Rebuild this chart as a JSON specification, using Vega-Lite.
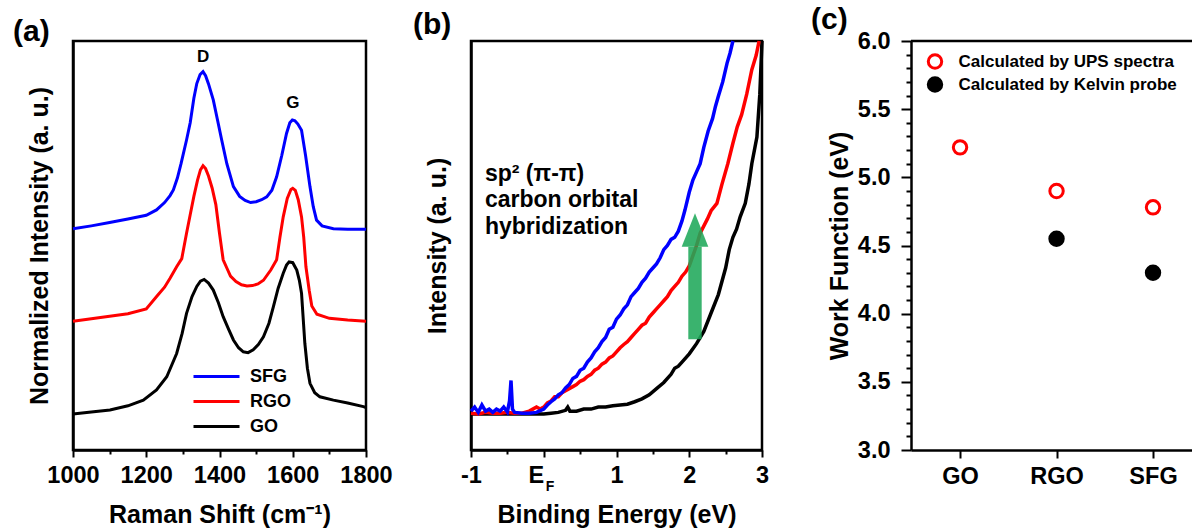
{
  "$schema": "https://vega.github.io/schema/vega-lite/v6.json",
  "background": "white",
  "padding": {"left": 11, "top": 5, "right": 0, "bottom": 0},
  "autosize": {"type": "pad"},
  "config": {
    "font": "Liberation Sans",
    "view": {"stroke": "black", "strokeWidth": 2.5},
    "axis": {"grid": false, "labelFontSize": 23.5, "labelFontWeight": "bold", "labelColor": "black", "titleFontSize": 25, "titleFontWeight": "bold", "titleColor": "black", "tickColor": "black", "tickWidth": 2, "domainColor": "black", "domainWidth": 2.5, "minExtent": 0},
    "title": {"fontSize": 30, "fontWeight": "bold", "color": "black", "anchor": "start", "frame": "group", "baseline": "alphabetic", "offset": 0, "dy": 10}
  },
  "datasets": {
    "raman": [
      {"sample":"GO","shift":1000,"intensity":0.088},{"sample":"GO","shift":1050,"intensity":0.093},{"sample":"GO","shift":1101,"intensity":0.098},{"sample":"GO","shift":1150,"intensity":0.108},{"sample":"GO","shift":1192,"intensity":0.122},{"sample":"GO","shift":1228,"intensity":0.147},{"sample":"GO","shift":1256,"intensity":0.179},{"sample":"GO","shift":1283,"intensity":0.236},{"sample":"GO","shift":1298,"intensity":0.285},{"sample":"GO","shift":1310,"intensity":0.334},{"sample":"GO","shift":1325,"intensity":0.375},{"sample":"GO","shift":1338,"intensity":0.4},{"sample":"GO","shift":1348,"intensity":0.413},{"sample":"GO","shift":1358,"intensity":0.417},{"sample":"GO","shift":1370,"intensity":0.408},{"sample":"GO","shift":1383,"intensity":0.391},{"sample":"GO","shift":1397,"intensity":0.36},{"sample":"GO","shift":1410,"intensity":0.326},{"sample":"GO","shift":1425,"intensity":0.295},{"sample":"GO","shift":1438,"intensity":0.269},{"sample":"GO","shift":1452,"intensity":0.25},{"sample":"GO","shift":1465,"intensity":0.24},{"sample":"GO","shift":1478,"intensity":0.238},{"sample":"GO","shift":1492,"intensity":0.245},{"sample":"GO","shift":1506,"intensity":0.258},{"sample":"GO","shift":1520,"intensity":0.277},{"sample":"GO","shift":1535,"intensity":0.31},{"sample":"GO","shift":1547,"intensity":0.35},{"sample":"GO","shift":1560,"intensity":0.395},{"sample":"GO","shift":1574,"intensity":0.432},{"sample":"GO","shift":1583,"intensity":0.452},{"sample":"GO","shift":1590,"intensity":0.46},{"sample":"GO","shift":1600,"intensity":0.458},{"sample":"GO","shift":1611,"intensity":0.44},{"sample":"GO","shift":1618,"intensity":0.415},{"sample":"GO","shift":1624,"intensity":0.383},{"sample":"GO","shift":1633,"intensity":0.261},{"sample":"GO","shift":1640,"intensity":0.2},{"sample":"GO","shift":1647,"intensity":0.163},{"sample":"GO","shift":1660,"intensity":0.14},{"sample":"GO","shift":1674,"intensity":0.13},{"sample":"GO","shift":1711,"intensity":0.122},{"sample":"GO","shift":1750,"intensity":0.115},{"sample":"GO","shift":1793,"intensity":0.106},{"sample":"GO","shift":1800,"intensity":0.104},
      {"sample":"RGO","shift":1000,"intensity":0.315},{"sample":"RGO","shift":1050,"intensity":0.321},{"sample":"RGO","shift":1100,"intensity":0.327},{"sample":"RGO","shift":1150,"intensity":0.333},{"sample":"RGO","shift":1200,"intensity":0.345},{"sample":"RGO","shift":1230,"intensity":0.377},{"sample":"RGO","shift":1250,"intensity":0.398},{"sample":"RGO","shift":1265,"intensity":0.42},{"sample":"RGO","shift":1283,"intensity":0.448},{"sample":"RGO","shift":1297,"intensity":0.468},{"sample":"RGO","shift":1310,"intensity":0.53},{"sample":"RGO","shift":1320,"intensity":0.575},{"sample":"RGO","shift":1330,"intensity":0.62},{"sample":"RGO","shift":1340,"intensity":0.66},{"sample":"RGO","shift":1348,"intensity":0.685},{"sample":"RGO","shift":1355,"intensity":0.695},{"sample":"RGO","shift":1362,"intensity":0.688},{"sample":"RGO","shift":1370,"intensity":0.67},{"sample":"RGO","shift":1380,"intensity":0.64},{"sample":"RGO","shift":1390,"intensity":0.6},{"sample":"RGO","shift":1400,"intensity":0.53},{"sample":"RGO","shift":1410,"intensity":0.465},{"sample":"RGO","shift":1420,"intensity":0.445},{"sample":"RGO","shift":1430,"intensity":0.425},{"sample":"RGO","shift":1445,"intensity":0.412},{"sample":"RGO","shift":1460,"intensity":0.404},{"sample":"RGO","shift":1475,"intensity":0.401},{"sample":"RGO","shift":1490,"intensity":0.402},{"sample":"RGO","shift":1505,"intensity":0.406},{"sample":"RGO","shift":1520,"intensity":0.415},{"sample":"RGO","shift":1540,"intensity":0.44},{"sample":"RGO","shift":1556,"intensity":0.465},{"sample":"RGO","shift":1565,"intensity":0.52},{"sample":"RGO","shift":1574,"intensity":0.57},{"sample":"RGO","shift":1585,"intensity":0.615},{"sample":"RGO","shift":1595,"intensity":0.637},{"sample":"RGO","shift":1600,"intensity":0.64},{"sample":"RGO","shift":1607,"intensity":0.635},{"sample":"RGO","shift":1615,"intensity":0.612},{"sample":"RGO","shift":1624,"intensity":0.57},{"sample":"RGO","shift":1630,"intensity":0.52},{"sample":"RGO","shift":1636,"intensity":0.448},{"sample":"RGO","shift":1645,"intensity":0.39},{"sample":"RGO","shift":1652,"intensity":0.352},{"sample":"RGO","shift":1666,"intensity":0.332},{"sample":"RGO","shift":1700,"intensity":0.322},{"sample":"RGO","shift":1750,"intensity":0.318},{"sample":"RGO","shift":1800,"intensity":0.315},
      {"sample":"SFG","shift":1000,"intensity":0.541},{"sample":"SFG","shift":1050,"intensity":0.548},{"sample":"SFG","shift":1100,"intensity":0.556},{"sample":"SFG","shift":1150,"intensity":0.565},{"sample":"SFG","shift":1200,"intensity":0.574},{"sample":"SFG","shift":1228,"intensity":0.587},{"sample":"SFG","shift":1250,"intensity":0.605},{"sample":"SFG","shift":1265,"intensity":0.622},{"sample":"SFG","shift":1274,"intensity":0.636},{"sample":"SFG","shift":1285,"intensity":0.665},{"sample":"SFG","shift":1295,"intensity":0.7},{"sample":"SFG","shift":1310,"intensity":0.758},{"sample":"SFG","shift":1320,"intensity":0.8},{"sample":"SFG","shift":1330,"intensity":0.86},{"sample":"SFG","shift":1338,"intensity":0.896},{"sample":"SFG","shift":1347,"intensity":0.918},{"sample":"SFG","shift":1355,"intensity":0.925},{"sample":"SFG","shift":1362,"intensity":0.915},{"sample":"SFG","shift":1370,"intensity":0.895},{"sample":"SFG","shift":1383,"intensity":0.856},{"sample":"SFG","shift":1395,"intensity":0.805},{"sample":"SFG","shift":1406,"intensity":0.758},{"sample":"SFG","shift":1420,"intensity":0.7},{"sample":"SFG","shift":1438,"intensity":0.644},{"sample":"SFG","shift":1455,"intensity":0.62},{"sample":"SFG","shift":1470,"intensity":0.61},{"sample":"SFG","shift":1485,"intensity":0.605},{"sample":"SFG","shift":1500,"intensity":0.607},{"sample":"SFG","shift":1515,"intensity":0.612},{"sample":"SFG","shift":1529,"intensity":0.619},{"sample":"SFG","shift":1543,"intensity":0.635},{"sample":"SFG","shift":1556,"intensity":0.668},{"sample":"SFG","shift":1570,"intensity":0.72},{"sample":"SFG","shift":1583,"intensity":0.774},{"sample":"SFG","shift":1592,"intensity":0.8},{"sample":"SFG","shift":1599,"intensity":0.807},{"sample":"SFG","shift":1606,"intensity":0.805},{"sample":"SFG","shift":1614,"intensity":0.797},{"sample":"SFG","shift":1624,"intensity":0.782},{"sample":"SFG","shift":1635,"intensity":0.72},{"sample":"SFG","shift":1647,"intensity":0.644},{"sample":"SFG","shift":1656,"intensity":0.595},{"sample":"SFG","shift":1665,"intensity":0.562},{"sample":"SFG","shift":1680,"intensity":0.548},{"sample":"SFG","shift":1711,"intensity":0.541},{"sample":"SFG","shift":1750,"intensity":0.54},{"sample":"SFG","shift":1800,"intensity":0.54}
    ],
    "ups": [
      {"sample":"GO","energy":-1.0,"intensity":0.088},{"sample":"GO","energy":-0.5,"intensity":0.088},{"sample":"GO","energy":0.0,"intensity":0.088},{"sample":"GO","energy":0.1,"intensity":0.09},{"sample":"GO","energy":0.2,"intensity":0.092},{"sample":"GO","energy":0.3,"intensity":0.097},{"sample":"GO","energy":0.33,"intensity":0.105},{"sample":"GO","energy":0.36,"intensity":0.095},{"sample":"GO","energy":0.45,"intensity":0.095},{"sample":"GO","energy":0.55,"intensity":0.1},{"sample":"GO","energy":0.65,"intensity":0.1},{"sample":"GO","energy":0.75,"intensity":0.105},{"sample":"GO","energy":0.85,"intensity":0.105},{"sample":"GO","energy":0.95,"intensity":0.108},{"sample":"GO","energy":1.05,"intensity":0.11},{"sample":"GO","energy":1.15,"intensity":0.112},{"sample":"GO","energy":1.25,"intensity":0.118},{"sample":"GO","energy":1.35,"intensity":0.125},{"sample":"GO","energy":1.45,"intensity":0.135},{"sample":"GO","energy":1.55,"intensity":0.15},{"sample":"GO","energy":1.65,"intensity":0.165},{"sample":"GO","energy":1.75,"intensity":0.185},{"sample":"GO","energy":1.8,"intensity":0.2},{"sample":"GO","energy":1.85,"intensity":0.205},{"sample":"GO","energy":1.9,"intensity":0.215},{"sample":"GO","energy":2.0,"intensity":0.235},{"sample":"GO","energy":2.1,"intensity":0.26},{"sample":"GO","energy":2.2,"intensity":0.29},{"sample":"GO","energy":2.3,"intensity":0.335},{"sample":"GO","energy":2.4,"intensity":0.38},{"sample":"GO","energy":2.5,"intensity":0.445},{"sample":"GO","energy":2.55,"intensity":0.49},{"sample":"GO","energy":2.6,"intensity":0.52},{"sample":"GO","energy":2.65,"intensity":0.54},{"sample":"GO","energy":2.7,"intensity":0.57},{"sample":"GO","energy":2.77,"intensity":0.603},{"sample":"GO","energy":2.82,"intensity":0.65},{"sample":"GO","energy":2.86,"intensity":0.7},{"sample":"GO","energy":2.93,"intensity":0.765},{"sample":"GO","energy":2.97,"intensity":0.87},{"sample":"GO","energy":3.0,"intensity":1.0},
      {"sample":"RGO","energy":-1.0,"intensity":0.09},{"sample":"RGO","energy":-0.9,"intensity":0.088},{"sample":"RGO","energy":-0.8,"intensity":0.092},{"sample":"RGO","energy":-0.7,"intensity":0.09},{"sample":"RGO","energy":-0.6,"intensity":0.09},{"sample":"RGO","energy":-0.5,"intensity":0.092},{"sample":"RGO","energy":-0.4,"intensity":0.09},{"sample":"RGO","energy":-0.3,"intensity":0.09},{"sample":"RGO","energy":-0.2,"intensity":0.095},{"sample":"RGO","energy":-0.15,"intensity":0.1},{"sample":"RGO","energy":-0.1,"intensity":0.105},{"sample":"RGO","energy":-0.05,"intensity":0.1},{"sample":"RGO","energy":0.0,"intensity":0.105},{"sample":"RGO","energy":0.05,"intensity":0.115},{"sample":"RGO","energy":0.1,"intensity":0.12},{"sample":"RGO","energy":0.15,"intensity":0.13},{"sample":"RGO","energy":0.2,"intensity":0.13},{"sample":"RGO","energy":0.25,"intensity":0.14},{"sample":"RGO","energy":0.3,"intensity":0.145},{"sample":"RGO","energy":0.35,"intensity":0.15},{"sample":"RGO","energy":0.4,"intensity":0.155},{"sample":"RGO","energy":0.45,"intensity":0.16},{"sample":"RGO","energy":0.5,"intensity":0.168},{"sample":"RGO","energy":0.55,"intensity":0.172},{"sample":"RGO","energy":0.6,"intensity":0.18},{"sample":"RGO","energy":0.65,"intensity":0.185},{"sample":"RGO","energy":0.7,"intensity":0.195},{"sample":"RGO","energy":0.75,"intensity":0.2},{"sample":"RGO","energy":0.8,"intensity":0.21},{"sample":"RGO","energy":0.85,"intensity":0.215},{"sample":"RGO","energy":0.9,"intensity":0.225},{"sample":"RGO","energy":0.95,"intensity":0.23},{"sample":"RGO","energy":1.0,"intensity":0.24},{"sample":"RGO","energy":1.05,"intensity":0.25},{"sample":"RGO","energy":1.1,"intensity":0.258},{"sample":"RGO","energy":1.15,"intensity":0.265},{"sample":"RGO","energy":1.2,"intensity":0.275},{"sample":"RGO","energy":1.25,"intensity":0.285},{"sample":"RGO","energy":1.3,"intensity":0.295},{"sample":"RGO","energy":1.35,"intensity":0.305},{"sample":"RGO","energy":1.4,"intensity":0.31},{"sample":"RGO","energy":1.45,"intensity":0.325},{"sample":"RGO","energy":1.5,"intensity":0.335},{"sample":"RGO","energy":1.55,"intensity":0.345},{"sample":"RGO","energy":1.6,"intensity":0.355},{"sample":"RGO","energy":1.65,"intensity":0.365},{"sample":"RGO","energy":1.7,"intensity":0.375},{"sample":"RGO","energy":1.75,"intensity":0.39},{"sample":"RGO","energy":1.8,"intensity":0.4},{"sample":"RGO","energy":1.85,"intensity":0.41},{"sample":"RGO","energy":1.9,"intensity":0.425},{"sample":"RGO","energy":1.95,"intensity":0.435},{"sample":"RGO","energy":2.0,"intensity":0.45},{"sample":"RGO","energy":2.1,"intensity":0.5},{"sample":"RGO","energy":2.15,"intensity":0.53},{"sample":"RGO","energy":2.25,"intensity":0.565},{"sample":"RGO","energy":2.3,"intensity":0.585},{"sample":"RGO","energy":2.38,"intensity":0.603},{"sample":"RGO","energy":2.45,"intensity":0.65},{"sample":"RGO","energy":2.53,"intensity":0.7},{"sample":"RGO","energy":2.6,"intensity":0.75},{"sample":"RGO","energy":2.66,"intensity":0.79},{"sample":"RGO","energy":2.72,"intensity":0.82},{"sample":"RGO","energy":2.79,"intensity":0.87},{"sample":"RGO","energy":2.86,"intensity":0.93},{"sample":"RGO","energy":2.92,"intensity":0.965},{"sample":"RGO","energy":2.96,"intensity":1.0},
      {"sample":"SFG","energy":-1.0,"intensity":0.095},{"sample":"SFG","energy":-0.95,"intensity":0.105},{"sample":"SFG","energy":-0.9,"intensity":0.092},{"sample":"SFG","energy":-0.85,"intensity":0.11},{"sample":"SFG","energy":-0.8,"intensity":0.095},{"sample":"SFG","energy":-0.75,"intensity":0.1},{"sample":"SFG","energy":-0.7,"intensity":0.092},{"sample":"SFG","energy":-0.65,"intensity":0.1},{"sample":"SFG","energy":-0.6,"intensity":0.095},{"sample":"SFG","energy":-0.55,"intensity":0.105},{"sample":"SFG","energy":-0.5,"intensity":0.093},{"sample":"SFG","energy":-0.47,"intensity":0.12},{"sample":"SFG","energy":-0.45,"intensity":0.17},{"sample":"SFG","energy":-0.43,"intensity":0.1},{"sample":"SFG","energy":-0.4,"intensity":0.092},{"sample":"SFG","energy":-0.3,"intensity":0.09},{"sample":"SFG","energy":-0.2,"intensity":0.09},{"sample":"SFG","energy":-0.1,"intensity":0.092},{"sample":"SFG","energy":0.0,"intensity":0.1},{"sample":"SFG","energy":0.05,"intensity":0.11},{"sample":"SFG","energy":0.1,"intensity":0.118},{"sample":"SFG","energy":0.15,"intensity":0.125},{"sample":"SFG","energy":0.2,"intensity":0.135},{"sample":"SFG","energy":0.25,"intensity":0.14},{"sample":"SFG","energy":0.3,"intensity":0.152},{"sample":"SFG","energy":0.35,"intensity":0.16},{"sample":"SFG","energy":0.4,"intensity":0.175},{"sample":"SFG","energy":0.45,"intensity":0.18},{"sample":"SFG","energy":0.5,"intensity":0.195},{"sample":"SFG","energy":0.55,"intensity":0.2},{"sample":"SFG","energy":0.6,"intensity":0.215},{"sample":"SFG","energy":0.65,"intensity":0.225},{"sample":"SFG","energy":0.7,"intensity":0.24},{"sample":"SFG","energy":0.75,"intensity":0.25},{"sample":"SFG","energy":0.8,"intensity":0.265},{"sample":"SFG","energy":0.85,"intensity":0.275},{"sample":"SFG","energy":0.9,"intensity":0.295},{"sample":"SFG","energy":0.95,"intensity":0.3},{"sample":"SFG","energy":1.0,"intensity":0.32},{"sample":"SFG","energy":1.05,"intensity":0.33},{"sample":"SFG","energy":1.1,"intensity":0.345},{"sample":"SFG","energy":1.15,"intensity":0.355},{"sample":"SFG","energy":1.2,"intensity":0.375},{"sample":"SFG","energy":1.25,"intensity":0.385},{"sample":"SFG","energy":1.3,"intensity":0.395},{"sample":"SFG","energy":1.35,"intensity":0.41},{"sample":"SFG","energy":1.4,"intensity":0.42},{"sample":"SFG","energy":1.45,"intensity":0.435},{"sample":"SFG","energy":1.5,"intensity":0.445},{"sample":"SFG","energy":1.55,"intensity":0.455},{"sample":"SFG","energy":1.6,"intensity":0.47},{"sample":"SFG","energy":1.65,"intensity":0.49},{"sample":"SFG","energy":1.7,"intensity":0.5},{"sample":"SFG","energy":1.75,"intensity":0.515},{"sample":"SFG","energy":1.8,"intensity":0.52},{"sample":"SFG","energy":1.85,"intensity":0.535},{"sample":"SFG","energy":1.9,"intensity":0.56},{"sample":"SFG","energy":1.94,"intensity":0.586},{"sample":"SFG","energy":2.0,"intensity":0.63},{"sample":"SFG","energy":2.05,"intensity":0.66},{"sample":"SFG","energy":2.1,"intensity":0.68},{"sample":"SFG","energy":2.15,"intensity":0.7},{"sample":"SFG","energy":2.2,"intensity":0.74},{"sample":"SFG","energy":2.26,"intensity":0.78},{"sample":"SFG","energy":2.32,"intensity":0.81},{"sample":"SFG","energy":2.36,"intensity":0.84},{"sample":"SFG","energy":2.4,"intensity":0.865},{"sample":"SFG","energy":2.46,"intensity":0.9},{"sample":"SFG","energy":2.52,"intensity":0.946},{"sample":"SFG","energy":2.56,"intensity":0.97},{"sample":"SFG","energy":2.6,"intensity":1.0}
    ],
    "wf": [
      {"sample":"GO","wf":5.22,"method":"Calculated by UPS spectra"},
      {"sample":"RGO","wf":4.9,"method":"Calculated by UPS spectra"},
      {"sample":"SFG","wf":4.78,"method":"Calculated by UPS spectra"},
      {"sample":"RGO","wf":4.55,"method":"Calculated by Kelvin probe"},
      {"sample":"SFG","wf":4.3,"method":"Calculated by Kelvin probe"}
    ]
  },
  "hconcat": [
    {
      "hconcat": [
        {
          "width": 293, "height": 409,
          "title": {"text": "(a)", "dx": -60},
          "layer": [
            {
              "data": {"name": "raman"},
              "mark": {"type": "line", "strokeWidth": 3},
              "encoding": {
                "x": {"field": "shift", "type": "quantitative", "scale": {"domain": [1000, 1800], "nice": false, "zero": false},
                  "axis": {"orient": "bottom", "values": [1000, 1200, 1400, 1600, 1800], "format": "d", "tickSize": 7, "labelPadding": 6, "domain": true, "labelFlush": false, "labelOverlap": false, "title": "Raman Shift (cm⁻¹)", "titlePadding": 16}},
                "y": {"field": "intensity", "type": "quantitative", "scale": {"domain": [0, 1], "nice": false, "zero": false},
                  "axis": {"orient": "left", "title": "Normalized Intensity (a. u.)", "labels": false, "ticks": false, "domain": true, "titlePadding": 21}},
                "color": {"field": "sample", "type": "nominal", "scale": {"domain": ["SFG", "RGO", "GO"], "range": ["#0000ff", "#ff0000", "#000000"]},
                  "legend": {"title": null, "orient": "none", "legendX": 134.5, "legendY": 326.5, "symbolType": "M-5.75,0H5.75", "symbolSize": 64, "symbolStrokeWidth": 3, "labelFontSize": 18, "labelFontWeight": "bold", "labelColor": "black", "labelOffset": 24.5, "rowPadding": 7, "padding": 0}}
              }
            },
            {
              "data": {"values": [{"shift": 1355, "intensity": 0.961, "label": "D"}, {"shift": 1600, "intensity": 0.848, "label": "G"}]},
              "mark": {"type": "text", "fontSize": 17, "fontWeight": "bold", "color": "black"},
              "encoding": {
                "x": {"field": "shift", "type": "quantitative", "axis": {"orient": "bottom", "values": [1100, 1300, 1500, 1700], "labels": false, "tickSize": 4, "domain": false, "title": null}},
                "y": {"field": "intensity", "type": "quantitative", "axis": null},
                "text": {"field": "label"}
              }
            }
          ],
          "resolve": {"axis": {"x": "independent", "y": "independent"}}
        },
        {
          "width": 291, "height": 409,
          "title": {"text": "(b)", "dx": -58},
          "layer": [
            {
              "data": {"name": "ups"},
              "mark": {"type": "line", "strokeWidth": 3.5},
              "encoding": {
                "x": {"field": "energy", "type": "quantitative", "scale": {"domain": [-1, 3], "nice": false, "zero": false},
                  "axis": {"orient": "bottom", "values": [-1, 0, 1, 2, 3], "labelExpr": "datum.value == 0 ? 'E' : '' + datum.value", "labelAlign": {"condition": {"test": "datum.value == 0", "value": "right"}, "value": "center"}, "tickSize": 7, "labelPadding": 6, "domain": true, "labelFlush": false, "labelOverlap": false, "title": "Binding Energy (eV)", "titlePadding": 16}},
                "y": {"field": "intensity", "type": "quantitative", "scale": {"domain": [0, 1], "nice": false, "zero": false},
                  "axis": {"orient": "left", "title": "Intensity (a. u.)", "labels": false, "ticks": false, "domain": true, "titlePadding": 21}},
                "color": {"field": "sample", "type": "nominal", "scale": {"domain": ["SFG", "RGO", "GO"], "range": ["#0000ff", "#ff0000", "#000000"]}, "legend": null}
              }
            },
            {
              "data": {"values": [{"x1": 1.987, "x2": 2.171, "y1": 0.271, "y2": 0.497}]},
              "mark": {"type": "rect", "color": "#1fa85a", "opacity": 0.88},
              "encoding": {
                "x": {"field": "x1", "type": "quantitative", "axis": null},
                "x2": {"field": "x2"},
                "y": {"field": "y1", "type": "quantitative", "axis": null},
                "y2": {"field": "y2"}
              }
            },
            {
              "data": {"values": [{"x": 1.896, "lo": 0.497, "hi": 0.497}, {"x": 2.079, "lo": 0.497, "hi": 0.579}, {"x": 2.262, "lo": 0.497, "hi": 0.497}]},
              "mark": {"type": "area", "color": "#1fa85a", "opacity": 0.88},
              "encoding": {
                "x": {"field": "x", "type": "quantitative", "axis": null},
                "y": {"field": "hi", "type": "quantitative", "axis": null},
                "y2": {"field": "lo"}
              }
            },
            {
              "data": {"values": [{"x": -0.808, "y": 0.675, "t": "sp² (π-π)"}, {"x": -0.808, "y": 0.611, "t": "carbon orbital"}, {"x": -0.808, "y": 0.545, "t": "hybridization"}]},
              "mark": {"type": "text", "fontSize": 23, "fontWeight": "bold", "color": "black", "align": "left", "baseline": "middle"},
              "encoding": {
                "x": {"field": "x", "type": "quantitative", "axis": {"orient": "bottom", "values": [-0.5, 0.5, 1.5, 2.5], "labels": false, "tickSize": 4, "domain": false, "title": null}},
                "y": {"field": "y", "type": "quantitative", "axis": null},
                "text": {"field": "t"}
              }
            },
            {
              "data": {"values": [{"x": 0.086, "y": -0.09, "t": "F"}]},
              "mark": {"type": "text", "fontSize": 14, "fontWeight": "bold", "color": "black", "align": "center", "baseline": "middle"},
              "encoding": {
                "x": {"field": "x", "type": "quantitative", "axis": null},
                "y": {"field": "y", "type": "quantitative", "axis": null},
                "text": {"field": "t"}
              }
            }
          ],
          "resolve": {"axis": {"x": "independent", "y": "independent"}}
        }
      ],
      "spacing": 105,
      "bounds": "flush",
      "resolve": {"scale": {"color": "independent"}, "legend": {"color": "independent"}}
    },
    {
      "width": 285, "height": 409,
      "view": {"stroke": null},
      "title": {"text": "(c)", "dx": -100},
      "layer": [
        {
          "data": {"name": "wf"},
          "mark": {"type": "point", "strokeWidth": 3, "size": 180, "opacity": 1},
          "encoding": {
            "x": {"field": "sample", "type": "nominal", "scale": {"type": "point", "domain": ["GO", "RGO", "SFG"], "padding": 0.477, "align": 0.533},
              "axis": {"title": null, "labelAngle": 0, "tickSize": 8, "labelPadding": 6, "domain": true}},
            "y": {"field": "wf", "type": "quantitative", "scale": {"domain": [3, 6], "nice": false, "zero": false},
              "axis": {"orient": "left", "values": [3, 3.5, 4, 4.5, 5, 5.5, 6], "format": ".1f", "tickSize": 10, "labelPadding": 11, "labelFlush": false, "labelOverlap": false, "title": "Work Function (eV)", "titlePadding": 5, "domain": true}},
            "color": {"field": "method", "type": "nominal", "scale": {"domain": ["Calculated by UPS spectra", "Calculated by Kelvin probe"], "range": ["#ff0000", "#000000"]},
              "legend": {"title": null, "orient": "none", "legendX": 15.5, "legendY": 12, "symbolSize": 180, "symbolStrokeWidth": 3, "labelFontSize": 17, "labelFontWeight": "bold", "labelColor": "black", "labelLimit": 400, "labelOffset": 15, "rowPadding": -4, "padding": 0}},
            "fill": {"field": "method", "type": "nominal", "scale": {"domain": ["Calculated by UPS spectra", "Calculated by Kelvin probe"], "range": ["#ffffff", "#000000"]},
              "legend": {"title": null, "orient": "none", "legendX": 15.5, "legendY": 12, "symbolSize": 180, "symbolStrokeWidth": 3, "labelFontSize": 17, "labelFontWeight": "bold", "labelColor": "black", "labelLimit": 400, "labelOffset": 15, "rowPadding": -4, "padding": 0}}
          }
        },
        {
          "data": {"values": [{}]},
          "mark": {"type": "rule", "strokeWidth": 2.5, "color": "black"},
          "encoding": {
            "y": {"datum": 6, "type": "quantitative", "axis": {"orient": "left", "values": [3.1, 3.2, 3.3, 3.4, 3.6, 3.7, 3.8, 3.9, 4.1, 4.2, 4.3, 4.4, 4.6, 4.7, 4.8, 4.9, 5.1, 5.2, 5.3, 5.4, 5.6, 5.7, 5.8, 5.9], "labels": false, "tickSize": 5, "domain": false, "title": null}}
          }
        }
      ],
      "resolve": {"axis": {"y": "independent"}}
    }
  ],
  "spacing": 40,
  "resolve": {"scale": {"color": "independent", "fill": "independent"}, "legend": {"color": "independent", "fill": "independent"}}
}
